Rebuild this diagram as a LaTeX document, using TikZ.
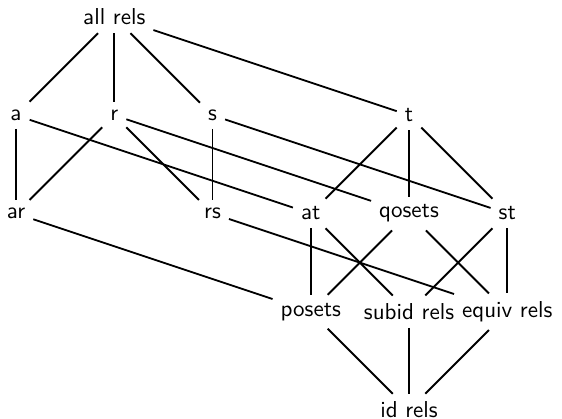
\documentclass[tikz,border=0pt]{standalone}
\begin{document}
\begin{tikzpicture}[x=1.5cm,y=1.5cm,font=\sffamily]
	\useasboundingbox (-0.163,-0.091) rectangle (5.557,4.173);
	% elements of the lattice
	\node (all) at (1,4) {all rels};
	\node (a) at (0,3) {a};
	\node (r) at (1,3) {r};
	\node (s) at (2,3) {s};
	\node (t) at (4,3) {t};
	\node (ar) at (0,2) {ar};
	\node (rs) at (2,2) {rs};
	\node (at) at (3,2) {at};
	\node (qo) at (4,2) {qosets};
	\node (st) at (5,2) {st};
	\node (po) at (3,1) {posets};
	\node (sub) at (4,1) {subid rels};
	\node (eq) at (5,1) {equiv rels};
	\node (id) at (4,0) {id rels};
	% covering relations
	\foreach \u/\v in {all/a,all/r,all/s,all/t,a/ar,a/at,r/ar,r/rs,r/qo,s/rs,s/st,
		t/at,t/qo,t/st,ar/po,rs/eq,at/po,at/sub,qo/po,qo/eq,st/sub,st/eq,po/id,sub/id,eq/id}
	\draw[thick] (\u) -- (\v);
\end{tikzpicture}
\end{document}
